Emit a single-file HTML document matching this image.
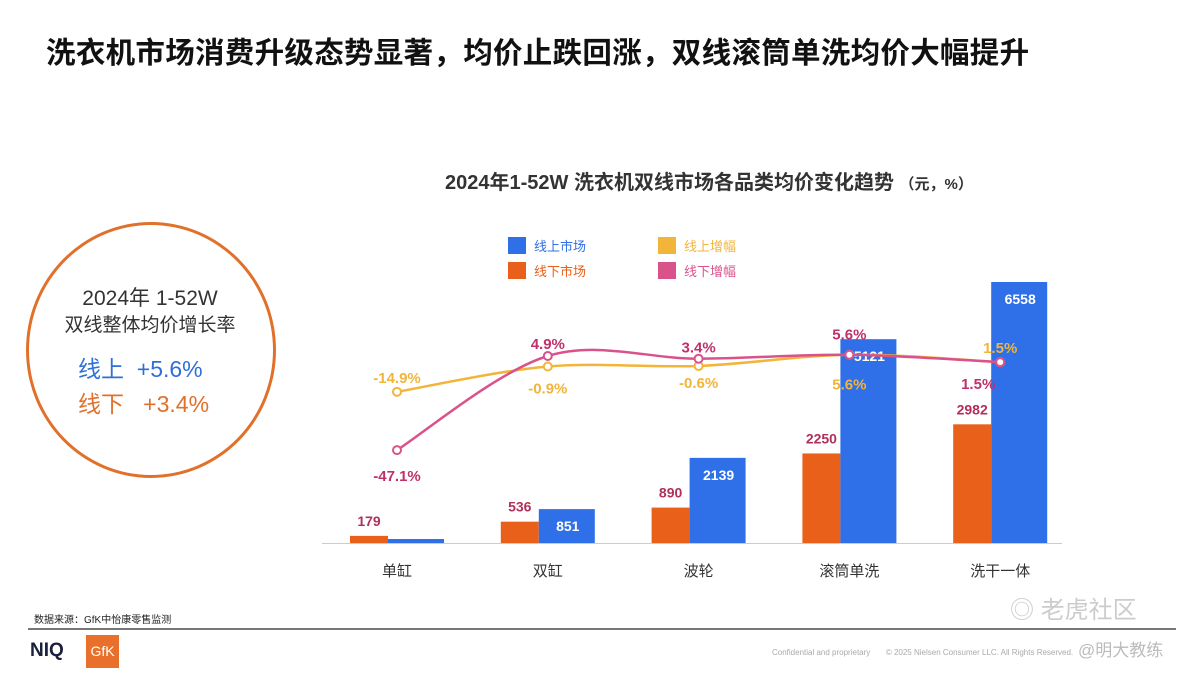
<!DOCTYPE html>
<html><head><meta charset="utf-8">
<style>
html,body{margin:0;padding:0;background:#fff;}
body{width:1200px;height:675px;position:relative;overflow:hidden;font-family:"Liberation Sans","Noto Sans CJK SC",sans-serif;}
.abs{position:absolute;}
</style></head>
<body>
<div class="abs" style="left:46px;top:30px;font-size:29.5px;font-weight:bold;color:#111;letter-spacing:0.3px;white-space:nowrap;">洗衣机市场消费升级态势显著，均价止跌回涨，双线滚筒单洗均价大幅提升</div>

<div class="abs" style="left:26px;top:222px;width:244px;height:250px;border:3px solid #e0702a;border-radius:50%;"></div>
<div class="abs" style="left:30px;top:286px;width:240px;text-align:center;font-size:21px;color:#333;line-height:26px;">2024年 1-52W<br><span style="font-size:19px">双线整体均价增长率</span></div>
<div class="abs" style="left:78px;top:350px;font-size:23px;color:#2e6fd8;">线上&nbsp; +5.6%</div>
<div class="abs" style="left:78px;top:385px;font-size:23px;color:#e0702a;">线下&nbsp;&nbsp; +3.4%</div>

<div class="abs" style="left:445px;top:166px;font-size:20px;font-weight:bold;color:#333;white-space:nowrap;">2024年1-52W 洗衣机双线市场各品类均价变化趋势 <span style="font-size:15px">（元，%）</span></div>

<svg class="abs" style="left:0;top:0" width="1200" height="675">
<g id="legend"></g>
<g id="bars"></g>
<g id="lines"></g>
</svg>

<div class="abs" style="left:34px;top:611px;font-size:10px;color:#222;">数据来源：GfK中怡康零售监测</div>
<div class="abs" style="left:28px;top:628px;width:1148px;height:2px;background:#777;"></div>
<div class="abs" style="left:30px;top:640px;font-size:19px;font-weight:bold;color:#1a1f3c;">NIQ</div>
<div class="abs" style="left:86px;top:635px;width:33px;height:33px;background:#e8702a;color:#fff;font-size:14px;text-align:center;line-height:33px;">GfK</div>
<div class="abs" style="left:772px;top:648px;font-size:8px;color:#aaa;">Confidential and proprietary&nbsp;&nbsp;&nbsp;&nbsp;&nbsp;&nbsp; © 2025 Nielsen Consumer LLC. All Rights Reserved.</div>
<div class="abs" style="left:1010px;top:590px;font-size:24px;color:#ccc;">◎ 老虎社区</div>
<div class="abs" style="left:1078px;top:636px;font-size:17px;color:#bbb;">@明大教练</div>

<script>
const categories=["单缸","双缸","波轮","滚筒单洗","洗干一体"];
const offlinePrice=[179,536,890,2250,2982];
const onlinePrice=[100,851,2139,5121,6558];
const onlineGrowth=[-14.9,-0.9,-0.6,5.6,1.5];
const offlineGrowth=[-47.1,4.9,3.4,5.6,1.5];
const onlineGrowthLabels=["-14.9%","-0.9%","-0.6%","5.6%","1.5%"];
const offlineGrowthLabels=["-47.1%","4.9%","3.4%","5.6%","1.5%"];

const NS="http://www.w3.org/2000/svg";
const base=543, x0=397, step=150.8;
const xc=i=>x0+i*step;
const yBar=v=>base-v*261/6558;
const yLine=v=>356-(v-4.9)*1.81;
function mk(t,a,p){const e=document.createElementNS(NS,t);for(const k in a)e.setAttribute(k,a[k]);p.appendChild(e);return e;}
const bars=document.getElementById('bars'),lines=document.getElementById('lines'),leg=document.getElementById('legend');
const BLUE="#2f6fe8",ORANGE="#e8601a",YEL="#f2b53a",PINK="#d9538a";

let ax=mk('line',{x1:322,x2:1062,y1:base+0.5,y2:base+0.5,stroke:'#ccc','stroke-width':1},bars);



categories.forEach((c,i)=>{
  const cx=xc(i);
  let r=mk('rect',{x:cx-47,y:yBar(offlinePrice[i]),width:38,height:base-yBar(offlinePrice[i]),fill:ORANGE},bars);
  
  
  let b=mk('rect',{x:cx-9,y:yBar(onlinePrice[i]),width:56,height:base-yBar(onlinePrice[i]),fill:BLUE},bars);
  
  
  let t=mk('text',{x:cx-28,y:yBar(offlinePrice[i])-10,'text-anchor':'middle','font-size':14,'font-weight':'bold',fill:'#b0305a'},bars);
  t.textContent=offlinePrice[i];
  
  
  if(i>0){
    let t2=mk('text',{x:cx+20,y:yBar(onlinePrice[i])+22,'text-anchor':'middle','font-size':14,'font-weight':'bold',fill:'#fff'},bars);
    t2.textContent=onlinePrice[i];
    
    
  }
  let cl=mk('text',{x:cx,y:576,'text-anchor':'middle','font-size':15,fill:'#333'},bars);
  cl.textContent=c;
  
  
});

function smooth(pts){
  let d=`M${pts[0][0]},${pts[0][1]}`;
  for(let i=0;i<pts.length-1;i++){
    const p0=pts[i-1]||pts[i],p1=pts[i],p2=pts[i+1],p3=pts[i+2]||p2;
    const c1=[p1[0]+(p2[0]-p0[0])/6,p1[1]+(p2[1]-p0[1])/6];
    const c2=[p2[0]-(p3[0]-p1[0])/6,p2[1]-(p3[1]-p1[1])/6];
    d+=` C${c1[0]},${c1[1]} ${c2[0]},${c2[1]} ${p2[0]},${p2[1]}`;
  }
  return d;
}
function series(vals,col,name){
  const pts=vals.map((v,i)=>[xc(i),yLine(v)]);
  let p=mk('path',{d:smooth(pts),fill:'none',stroke:col,'stroke-width':2.5},lines);
  
  
  pts.forEach(q=>{
    let c=mk('circle',{cx:q[0],cy:q[1],r:4,fill:'#fff',stroke:col,'stroke-width':2},lines);
    
    
  });
  return pts;
}
const yp=series(onlineGrowth,YEL,'online-growth');
const pp=series(offlineGrowth,PINK,'offline-growth');
const yOff=[-14,22,17,30,-14], pOff=[26,-12,-11,-20,22], pDx=[0,0,0,0,-22], yDx=[0,0,0,0,0];
yp.forEach((q,i)=>{
  let t=mk('text',{x:q[0]+yDx[i],y:q[1]+yOff[i]+5,'text-anchor':'middle','font-size':15,'font-weight':'bold',fill:YEL},lines);
  t.textContent=onlineGrowthLabels[i];
  
  
});
pp.forEach((q,i)=>{
  let t=mk('text',{x:q[0]+pDx[i],y:q[1]+pOff[i]+5,'text-anchor':'middle','font-size':15,'font-weight':'bold',fill:'#c0306a'},lines);
  t.textContent=offlineGrowthLabels[i];
  
  
});

const legItems=[["线上市场",BLUE,508,237],["线下市场",ORANGE,508,262],["线上增幅",YEL,658,237],["线下增幅",PINK,658,262]];
legItems.forEach(l=>{
  let r=mk('rect',{x:l[2],y:l[3],width:18,height:17,fill:l[1]},leg);
  
  
  let t=mk('text',{x:l[2]+26,y:l[3]+14,'font-size':13,fill:l[1]},leg);
  t.textContent=l[0];
  
  
});
</script>
</body></html>
